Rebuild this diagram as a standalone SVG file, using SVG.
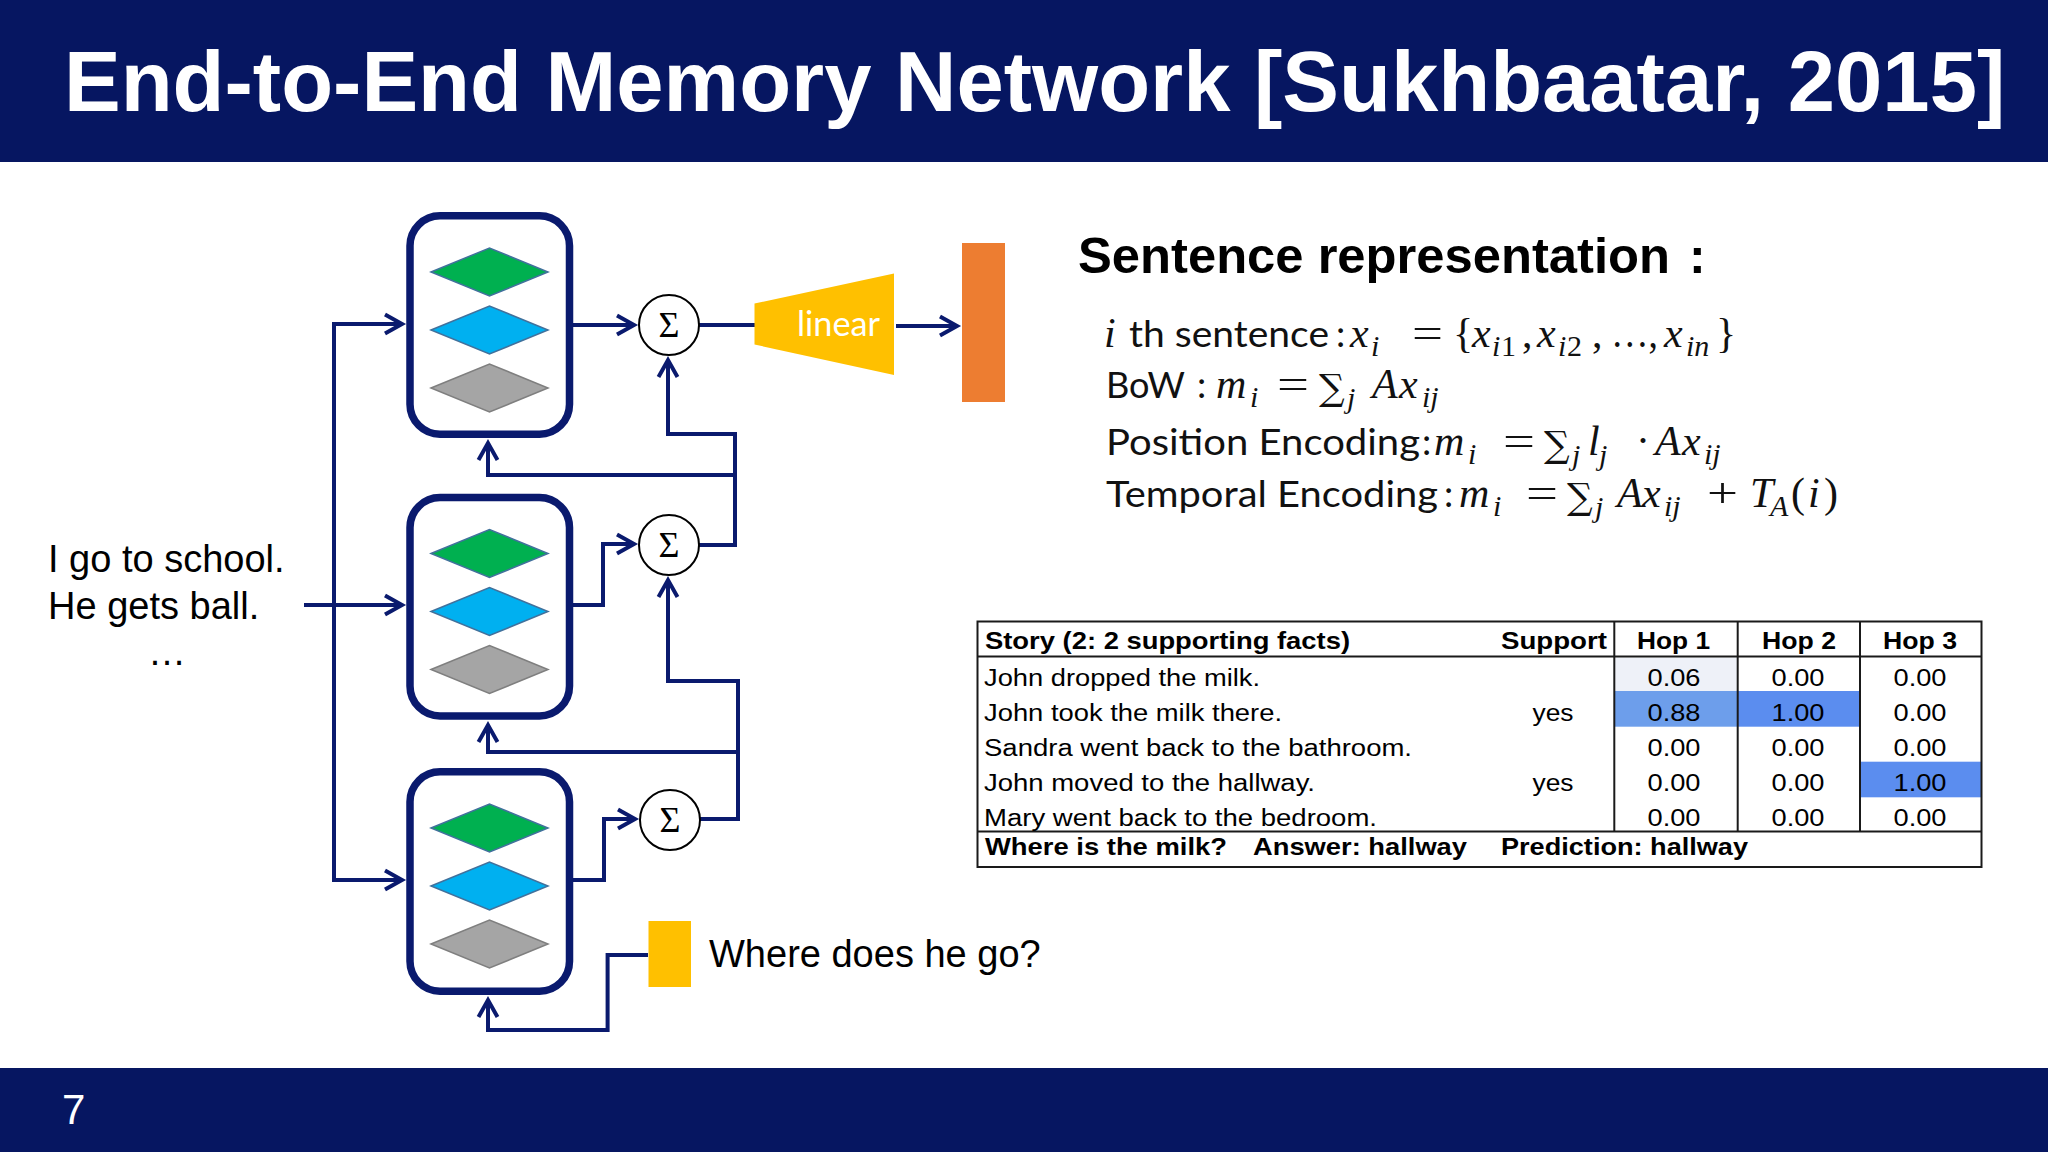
<svg xmlns="http://www.w3.org/2000/svg" width="2048" height="1152" viewBox="0 0 2048 1152">
<defs>
<style>
.hdr{fill:#061661}
.title{font-family:"Liberation Sans",Arial,sans-serif;font-weight:bold;font-size:85px;fill:#fff}
.pg{font-family:"Liberation Sans",Arial,sans-serif;font-size:42px;fill:#fff}
.box{fill:#fff;stroke:#0a1a6e;stroke-width:7.5}
.dg{fill:#00b050;stroke:#41719c;stroke-width:1.5}
.db{fill:#00b0f0;stroke:#41719c;stroke-width:1.5}
.dy{fill:#a5a5a5;stroke:#7f7f7f;stroke-width:1.5}
.sig{fill:#fff;stroke:#000;stroke-width:2}
.sigt{font-family:"Liberation Serif","DejaVu Serif",serif;font-size:36px;fill:#000;text-anchor:middle}
.con{fill:none;stroke:#0a1a6e;stroke-width:4}
.lbl{font-family:"Liberation Sans",Arial,sans-serif;font-size:38px;fill:#000}
.cal{font-family:Lato,"Open Sans",sans-serif;font-size:37px;fill:#111}
.mi{font-family:"Liberation Serif","DejaVu Serif",serif;font-style:italic;font-size:42px;fill:#111}
.mu{font-family:"Liberation Serif","DejaVu Serif",serif;font-size:42px;fill:#111}
.sum{font-family:"DejaVu Serif","Liberation Serif",serif;font-size:36px;fill:#111}
.sb{font-family:"Liberation Serif","DejaVu Serif",serif;font-style:italic;font-size:30px;fill:#111}
.sbu{font-family:"Liberation Serif","DejaVu Serif",serif;font-size:30px;fill:#111}
.h2{font-family:"Liberation Sans",Arial,sans-serif;font-weight:bold;font-size:50px;fill:#000}
.tb{font-family:"Liberation Sans",Arial,sans-serif;font-weight:bold;font-size:24.5px;fill:#000}
.tr{font-family:"Liberation Sans",Arial,sans-serif;font-size:23.5px;fill:#000}
.tl{fill:none;stroke:#1a1a1a;stroke-width:2}
.c{text-anchor:middle}
</style>
<marker id="ah" markerUnits="userSpaceOnUse" markerWidth="30" markerHeight="30" viewBox="-22 -15 30 30" refX="0" refY="0" orient="auto" overflow="visible">
<path d="M-17,-9.5 L0,0 L-17,9.5" fill="none" stroke="#0a1a6e" stroke-width="4"/>
</marker>
</defs>
<rect width="2048" height="1152" fill="#fff"/>
<g id="header">
<rect class="hdr" x="0" y="0" width="2048" height="162"/>
<text class="title" x="64" y="111">End-to-End Memory Network [Sukhbaatar, 2015]</text>
</g>
<g id="footer">
<rect class="hdr" x="0" y="1068" width="2048" height="84"/>
<text class="pg" x="62" y="1124">7</text>
</g>

<g id="connectors">
<path class="con" d="M334,324 H402" marker-end="url(#ah)"/>
<path class="con" d="M402,324 H334 V880 H402" marker-end="url(#ah)"/>
<path class="con" d="M304,605 H402" marker-end="url(#ah)"/>
<path class="con" d="M573,325 H634" marker-end="url(#ah)"/>
<path class="con" d="M573,605 H603 V544 H634" marker-end="url(#ah)"/>
<path class="con" d="M573,880 H604 V819 H635" marker-end="url(#ah)"/>
<path class="con" d="M699,325 H756"/>
<path class="con" d="M896,326 H957" marker-end="url(#ah)"/>
<path class="con" d="M699,545 H735 V434 H668 V360" marker-end="url(#ah)"/>
<path class="con" d="M735,475 H488 V443" marker-end="url(#ah)"/>
<path class="con" d="M700,819 H738 V681 H668 V580" marker-end="url(#ah)"/>
<path class="con" d="M738,752 H488 V725" marker-end="url(#ah)"/>
<path class="con" d="M648,955 H607.6 V1030 H488 V1000" marker-end="url(#ah)"/>
</g>

<g id="memory-top">
<rect class="box" x="410" y="215.75" width="159.5" height="218.5" rx="30"/>
<polygon class="dg" points="431,272 489.5,248 548,272 489.5,296"/>
<polygon class="db" points="431,330 489.5,306 548,330 489.5,354"/>
<polygon class="dy" points="431,388 489.5,364 548,388 489.5,412"/>
</g>
<g id="memory-middle">
<rect class="box" x="410" y="497.5" width="159.5" height="218.5" rx="30"/>
<polygon class="dg" points="431,553.5 489.5,529.5 548,553.5 489.5,577.5"/>
<polygon class="db" points="431,611.5 489.5,587.5 548,611.5 489.5,635.5"/>
<polygon class="dy" points="431,669.5 489.5,645.5 548,669.5 489.5,693.5"/>
</g>
<g id="memory-bottom">
<rect class="box" x="410" y="771.75" width="159.5" height="219.5" rx="30"/>
<polygon class="dg" points="431,828 489.5,804 548,828 489.5,852"/>
<polygon class="db" points="431,886 489.5,862 548,886 489.5,910"/>
<polygon class="dy" points="431,944 489.5,920 548,944 489.5,968"/>
</g>

<g id="sum-top">
<circle class="sig" cx="669" cy="325" r="30"/>
<text class="sigt" x="669" y="337">Σ</text>
</g>
<g id="sum-middle">
<circle class="sig" cx="669" cy="545" r="30"/>
<text class="sigt" x="669" y="557">Σ</text>
</g>
<g id="sum-bottom">
<circle class="sig" cx="670" cy="820" r="30"/>
<text class="sigt" x="670" y="832">Σ</text>
</g>

<g id="linear">
<polygon points="754.5,303.5 894,273.5 894,375 754.5,344.5" fill="#ffc000"/>
<text x="797" y="336" font-family="Lato,'Open Sans',sans-serif" font-size="34" fill="#fff" textLength="83" lengthAdjust="spacingAndGlyphs">linear</text>
</g>
<g id="output">
<rect x="962" y="243" width="43" height="159" fill="#ed7d31"/>
</g>
<g id="query">
<rect x="648.5" y="921" width="42.5" height="66" fill="#ffc000"/>
<text class="lbl" x="709" y="967">Where does he go?</text>
</g>
<g id="story">
<text class="lbl" x="48" y="572">I go to school.</text>
<text class="lbl" x="48" y="619">He gets ball.</text>
<text class="lbl c" x="167" y="665">…</text>
</g>

<g id="sentence-representation">
<text class="h2" x="1078" y="273" textLength="592" lengthAdjust="spacingAndGlyphs">Sentence representation</text>
<text class="h2" x="1689" y="273">:</text>
<!-- line 1 -->
<text class="mi" x="1104" y="347">i</text>
<text class="cal" x="1129" y="347" textLength="200" lengthAdjust="spacingAndGlyphs">th sentence</text>
<text class="cal" x="1336" y="347">:</text>
<text class="mi" x="1350" y="347">x</text><text class="sb" x="1371" y="356">i</text>
<text class="mu" x="1412" y="347" textLength="31" lengthAdjust="spacingAndGlyphs">=</text>
<text class="mu" x="1453" y="347">{</text>
<text class="mi" x="1472" y="347">x</text><text class="sb" x="1492" y="356">i</text><text class="sbu" x="1501" y="356">1</text>
<text class="mu" x="1522" y="347">,</text>
<text class="mi" x="1537" y="347">x</text><text class="sb" x="1558" y="356">i</text><text class="sbu" x="1567" y="356">2</text>
<text class="mu" x="1592" y="347">,</text>
<text class="mu" x="1611" y="347" textLength="47" lengthAdjust="spacingAndGlyphs">…,</text>
<text class="mi" x="1664" y="347">x</text><text class="sb" x="1686" y="356">in</text>
<text class="mu" x="1716" y="347">}</text>
<!-- line 2 -->
<text class="cal" x="1106" y="398" textLength="79" lengthAdjust="spacingAndGlyphs">BoW</text>
<text class="cal" x="1197" y="398">:</text>
<text class="mi" x="1216" y="398">m</text><text class="sb" x="1250" y="407">i</text>
<text class="mu" x="1277" y="398" textLength="32" lengthAdjust="spacingAndGlyphs">=</text>
<text class="sum" x="1319" y="400">∑</text><text class="sb" x="1347" y="408">j</text>
<text class="mi" x="1372" y="398">A</text>
<text class="mi" x="1399" y="398">x</text><text class="sb" x="1422" y="407">ij</text>
<!-- line 3 -->
<text class="cal" x="1106" y="455" textLength="314" lengthAdjust="spacingAndGlyphs">Position Encoding</text>
<text class="cal" x="1422" y="455">:</text>
<text class="mi" x="1434" y="455">m</text><text class="sb" x="1468" y="464">i</text>
<text class="mu" x="1503" y="455" textLength="32" lengthAdjust="spacingAndGlyphs">=</text>
<text class="sum" x="1544" y="457">∑</text><text class="sb" x="1572" y="465">j</text>
<text class="mi" x="1588" y="455">l</text><text class="sb" x="1599" y="465">j</text>
<text class="mu" x="1636" y="455">·</text>
<text class="mi" x="1655" y="455">A</text>
<text class="mi" x="1682" y="455">x</text><text class="sb" x="1704" y="464">ij</text>
<!-- line 4 -->
<text class="cal" x="1106" y="507" textLength="332" lengthAdjust="spacingAndGlyphs">Temporal Encoding</text>
<text class="cal" x="1444" y="507">:</text>
<text class="mi" x="1459" y="507">m</text><text class="sb" x="1493" y="516">i</text>
<text class="mu" x="1526" y="507" textLength="32" lengthAdjust="spacingAndGlyphs">=</text>
<text class="sum" x="1567" y="509">∑</text><text class="sb" x="1595" y="517">j</text>
<text class="mi" x="1617" y="507">A</text>
<text class="mi" x="1642" y="507">x</text><text class="sb" x="1664" y="516">ij</text>
<text class="mu" x="1707" y="507" textLength="31" lengthAdjust="spacingAndGlyphs">+</text>
<text class="mi" x="1750" y="507">T</text><text class="sb" x="1770" y="516">A</text>
<text class="mu" x="1791" y="507">(</text>
<text class="mi" x="1808" y="507">i</text>
<text class="mu" x="1824" y="507">)</text>
</g>

<g id="attention-table">
<rect x="1614.3" y="657.5" width="123.4" height="33.5" fill="#eef1f8"/>
<rect x="1614.3" y="691" width="123.4" height="35.7" fill="#6d9eeb"/>
<rect x="1737.7" y="691" width="122.3" height="35.7" fill="#5b8def"/>
<rect x="1860" y="761.7" width="121.7" height="35.6" fill="#5b8def"/>
<rect class="tl" x="977.5" y="621.5" width="1004" height="245.5"/>
<line class="tl" x1="977.5" y1="656.5" x2="1981.5" y2="656.5"/>
<line class="tl" x1="977.5" y1="831.5" x2="1981.5" y2="831.5" stroke-width="2.5"/>
<line class="tl" x1="1614.3" y1="621.5" x2="1614.3" y2="831.5"/>
<line class="tl" x1="1737.7" y1="621.5" x2="1737.7" y2="831.5"/>
<line class="tl" x1="1860" y1="621.5" x2="1860" y2="831.5"/>
<text class="tb" x="985" y="648.5" textLength="365" lengthAdjust="spacingAndGlyphs">Story (2: 2 supporting facts)</text>
<text class="tb" x="1501" y="648.5" textLength="106" lengthAdjust="spacingAndGlyphs">Support</text>
<text class="tb c" x="1673.5" y="648.5" textLength="73" lengthAdjust="spacingAndGlyphs">Hop 1</text>
<text class="tb c" x="1799" y="648.5" textLength="74" lengthAdjust="spacingAndGlyphs">Hop 2</text>
<text class="tb c" x="1920" y="648.5" textLength="74" lengthAdjust="spacingAndGlyphs">Hop 3</text>
<text class="tr" x="984" y="686" textLength="276" lengthAdjust="spacingAndGlyphs">John dropped the milk.</text>
<text class="tr" x="984" y="721" textLength="298" lengthAdjust="spacingAndGlyphs">John took the milk there.</text>
<text class="tr" x="984" y="756" textLength="428" lengthAdjust="spacingAndGlyphs">Sandra went back to the bathroom.</text>
<text class="tr" x="984" y="791" textLength="331" lengthAdjust="spacingAndGlyphs">John moved to the hallway.</text>
<text class="tr" x="984" y="826" textLength="393" lengthAdjust="spacingAndGlyphs">Mary went back to the bedroom.</text>
<text class="tr c" x="1553" y="721" textLength="41" lengthAdjust="spacingAndGlyphs">yes</text>
<text class="tr c" x="1553" y="791" textLength="41" lengthAdjust="spacingAndGlyphs">yes</text>
<g class="tr c">
<text x="1674" y="686" textLength="53" lengthAdjust="spacingAndGlyphs">0.06</text>
<text x="1674" y="721" textLength="53" lengthAdjust="spacingAndGlyphs">0.88</text>
<text x="1674" y="756" textLength="53" lengthAdjust="spacingAndGlyphs">0.00</text>
<text x="1674" y="791" textLength="53" lengthAdjust="spacingAndGlyphs">0.00</text>
<text x="1674" y="826" textLength="53" lengthAdjust="spacingAndGlyphs">0.00</text>
<text x="1798" y="686" textLength="53" lengthAdjust="spacingAndGlyphs">0.00</text>
<text x="1798" y="721" textLength="53" lengthAdjust="spacingAndGlyphs">1.00</text>
<text x="1798" y="756" textLength="53" lengthAdjust="spacingAndGlyphs">0.00</text>
<text x="1798" y="791" textLength="53" lengthAdjust="spacingAndGlyphs">0.00</text>
<text x="1798" y="826" textLength="53" lengthAdjust="spacingAndGlyphs">0.00</text>
<text x="1920" y="686" textLength="53" lengthAdjust="spacingAndGlyphs">0.00</text>
<text x="1920" y="721" textLength="53" lengthAdjust="spacingAndGlyphs">0.00</text>
<text x="1920" y="756" textLength="53" lengthAdjust="spacingAndGlyphs">0.00</text>
<text x="1920" y="791" textLength="53" lengthAdjust="spacingAndGlyphs">1.00</text>
<text x="1920" y="826" textLength="53" lengthAdjust="spacingAndGlyphs">0.00</text>
</g>
<text class="tb" x="985" y="855" textLength="242" lengthAdjust="spacingAndGlyphs">Where is the milk?</text>
<text class="tb" x="1253" y="855" textLength="214" lengthAdjust="spacingAndGlyphs">Answer: hallway</text>
<text class="tb" x="1501" y="855" textLength="247" lengthAdjust="spacingAndGlyphs">Prediction: hallway</text>
</g>
</svg>
